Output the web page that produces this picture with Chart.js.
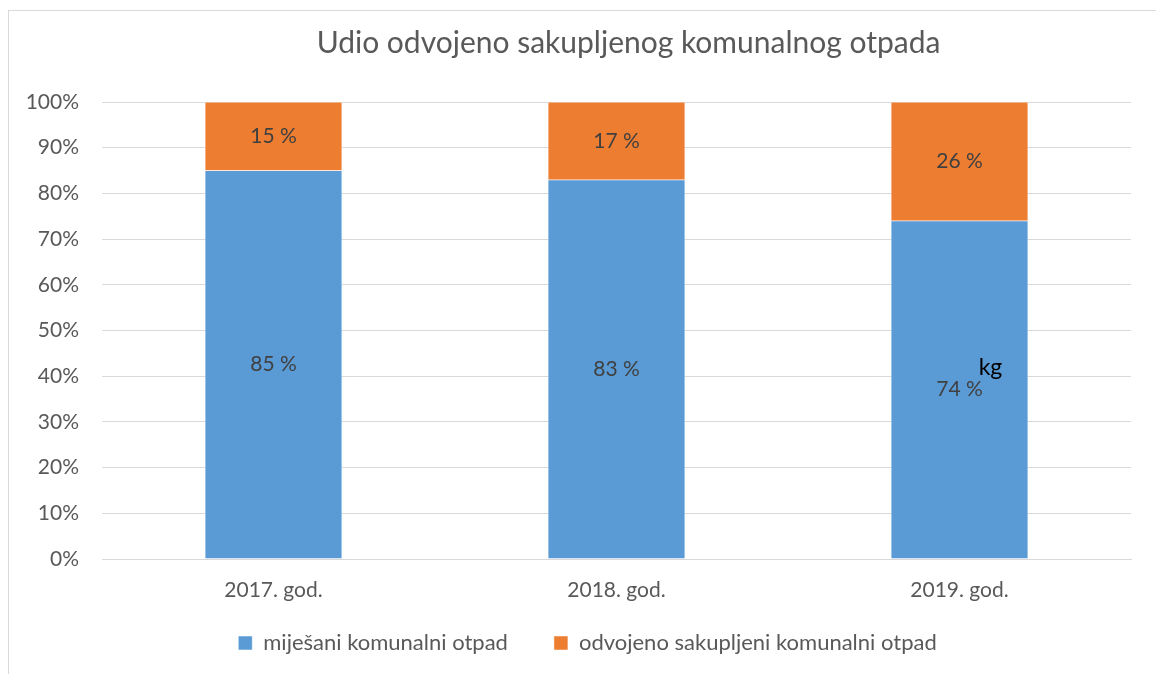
<!DOCTYPE html>
<html><head><meta charset="utf-8">
<script src="https://cdn.jsdelivr.net/npm/chart.js@4/dist/chart.umd.min.js"></script>
<style>
html,body{margin:0;padding:0;background:#fff;overflow:hidden}
#wrap{position:relative;width:1156px;height:674px}
#frame{position:absolute;left:8px;top:10px;width:1200px;height:700px;border:1px solid #d9d9d9;box-sizing:border-box}
canvas{position:absolute;left:0;top:0}
</style></head>
<body><div id="wrap"><div id="frame"></div><canvas id="c" width="1156" height="674"></canvas></div>
<script>
const categories = ['2017. god.', '2018. god.', '2019. god.'];
const mixedWaste = [85, 83, 74];
const separatedWaste = [15, 17, 26];
const seriesNames = ['miješani komunalni otpad', 'odvojeno sakupljeni komunalni otpad'];
const titleText = 'Udio odvojeno sakupljenog komunalnog otpada';
const strayLabel = 'kg';

const FONT = 'Lato, "Open Sans", sans-serif';

const labelPlugin = {
  id: 'barLabels',
  beforeLayout(chart) {
    const lg = chart.legend;
    if (lg && !lg._patched) {
      const f = lg.fit;
      lg.fit = function () { f.call(this); this.height = 58; };
      lg._patched = true;
    }
  },
  afterLayout(chart) {
    const lg = chart.legend;
    if (lg) { lg.left += 12; lg.right += 12; lg.top -= 20; }
  },
  afterDraw(chart) {
    const ctx = chart.ctx;
    ctx.save();
    // title
    ctx.font = '30px ' + FONT;
    ctx.fillStyle = '#595959';
    ctx.textAlign = 'center';
    ctx.textBaseline = 'middle';
    ctx.fillText(titleText, chart.chartArea.left + (chart.chartArea.right - chart.chartArea.left) / 2 + 12, 43);
    // bar labels
    ctx.font = '21px ' + FONT;
    ctx.fillStyle = '#404040';
    chart.data.datasets.forEach((ds, di) => {
      const meta = chart.getDatasetMeta(di);
      meta.data.forEach((bar, i) => {
        const yMid = (bar.y + bar.base) / 2;
        ctx.fillText(ds.data[i] + ' %', bar.x, yMid);
      });
    });
    // stray "kg" label near the 2019 bar
    const xs = chart.scales.x, ys = chart.scales.y;
    ctx.font = '23px ' + FONT;
    ctx.fillStyle = '#000';
    ctx.fillText(strayLabel, xs.getPixelForValue(2) + 31, ys.getPixelForValue(41.8));
    ctx.restore();
  }
};

new Chart(document.getElementById('c'), {
  type: 'bar',
  data: {
    labels: categories,
    datasets: [
      { label: seriesNames[0], data: mixedWaste, backgroundColor: '#5B9BD5', borderColor: '#ffffff', borderWidth: 0.5, barPercentage: 0.4, categoryPercentage: 1 },
      { label: seriesNames[1], data: separatedWaste, backgroundColor: '#ED7D31', borderColor: '#ffffff', borderWidth: 0.5, barPercentage: 0.4, categoryPercentage: 1 }
    ]
  },
  options: {
    responsive: false,
    animation: false,
    layout: { padding: { top: 102, left: 20, right: 25, bottom: 10 } },
    plugins: {
      title: { display: false },
      legend: { position: 'bottom', labels: { color: '#595959', font: { family: FONT, size: 22 }, boxWidth: 14, boxHeight: 14, padding: 46 } },
      tooltip: { enabled: false }
    },
    scales: {
      x: {
        stacked: true,
        grid: { display: false },
        border: { color: '#d9d9d9', width: 1 },
        afterFit: s => { s.height = 47; },
        ticks: { color: '#595959', font: { family: FONT, size: 21 }, padding: 11 }
      },
      y: {
        stacked: true,
        min: 0, max: 100,
        afterFit: s => { s.width = 82; },
        ticks: { stepSize: 10, color: '#595959', font: { family: FONT, size: 21 }, padding: 23, callback: v => v + '%' },
        grid: { color: '#d9d9d9', drawTicks: false },
        border: { display: false }
      }
    }
  },
  plugins: [labelPlugin]
});
</script></body></html>
